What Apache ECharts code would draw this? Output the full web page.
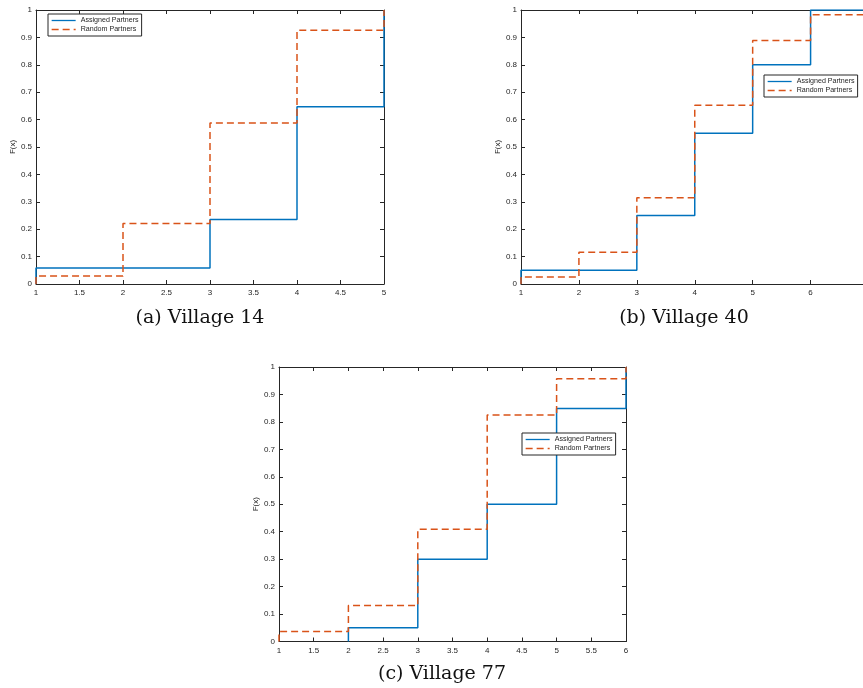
<!DOCTYPE html>
<html>
<head>
<meta charset="utf-8">
<script src="https://cdn.jsdelivr.net/npm/echarts@6/dist/echarts.min.js"></script>
<style>
html,body{margin:0;padding:0;background:#fff;}
#chart{width:863px;height:688px;}
</style>
</head>
<body>
<div id="chart"></div>
<script>
// ---- Data ----
const seriesNames = ['Assigned Partners', 'Random Partners'];
const captions = ['(a) Village 14', '(b) Village 40', '(c) Village 77'];

// Village 14
const v14AssignedX = [1, 1, 3, 4, 5];
const v14AssignedF = [0, 0.058, 0.235, 0.647, 1];
const v14RandomX = [1, 1, 2, 3, 4, 5];
const v14RandomF = [0, 0.029, 0.221, 0.588, 0.926, 1];

// Village 40
const v40AssignedX = [1, 1, 3, 4, 5, 6, 7];
const v40AssignedF = [0, 0.05, 0.25, 0.55, 0.80, 1, 1];
const v40RandomX = [1, 1, 2, 3, 4, 5, 6, 7];
const v40RandomF = [0, 0.026, 0.116, 0.315, 0.652, 0.889, 0.983, 0.983];

// Village 77
const v77AssignedX = [2, 2, 3, 4, 5, 6];
const v77AssignedF = [0, 0.05, 0.30, 0.50, 0.849, 1];
const v77RandomX = [1, 1, 2, 3, 4, 5, 6];
const v77RandomF = [0, 0.036, 0.131, 0.409, 0.825, 0.957, 1];

const xRanges = [[1, 5, 0.5], [1, 7, 1], [1, 6, 0.5]];

const zip = (xs, ys) => xs.map((x, i) => [x, ys[i]]);
const panels = [
  [zip(v14AssignedX, v14AssignedF), zip(v14RandomX, v14RandomF)],
  [zip(v40AssignedX, v40AssignedF), zip(v40RandomX, v40RandomF)],
  [zip(v77AssignedX, v77AssignedF), zip(v77RandomX, v77RandomF)]
];

// ---- Layout ----
const grids = [
  { left: 36, top: 10, width: 348, height: 274 },
  { left: 521, top: 10, width: 347.5, height: 274 },
  { left: 279, top: 367, width: 347, height: 274.5 }
];
const legendPos = [
  { left: 48, top: 14 },
  { left: 764, top: 75 },
  { left: 522, top: 433 }
];
const captionPos = [[200, 318], [684, 318], [442, 674]];

const axisColor = '#262626';
const blue = '#0072BD';
const orange = '#D95319';
const labelFont = { color: axisColor, fontSize: 8, fontFamily: 'Liberation Sans, Arial, sans-serif' };

const xAxis = [], yAxis = [], series = [], legend = [], graphic = [];
grids.forEach((g, i) => {
  const [mn, mx, iv] = xRanges[i];
  const common = {
    type: 'value', gridIndex: i, min: mn, max: mx, interval: iv,
    splitLine: { show: false },
    axisLine: { show: true, onZero: false, lineStyle: { color: axisColor, width: 1 } },
    axisTick: { show: true, inside: true, length: 4, lineStyle: { color: axisColor } }
  };
  xAxis.push(Object.assign({}, common, {
    position: 'bottom',
    axisLabel: Object.assign({ margin: 5, showMinLabel: true, showMaxLabel: true }, labelFont)
  }));
  xAxis.push(Object.assign({}, common, { position: 'top', axisLabel: { show: false } }));
  const ycommon = {
    type: 'value', gridIndex: i, min: 0, max: 1, interval: 0.1,
    splitLine: { show: false },
    axisLine: { show: true, onZero: false, lineStyle: { color: axisColor, width: 1 } },
    axisTick: { show: true, inside: true, length: 4, lineStyle: { color: axisColor } }
  };
  yAxis.push(Object.assign({}, ycommon, {
    position: 'left',
    name: 'F(x)', nameLocation: 'middle', nameGap: 18, nameRotate: 90,
    nameTextStyle: Object.assign({}, labelFont, { fontSize: 8 }),
    axisLabel: Object.assign({ margin: 4 }, labelFont)
  }));
  yAxis.push(Object.assign({}, ycommon, { position: 'right', axisLabel: { show: false } }));

  series.push({
    name: seriesNames[0], type: 'line', step: 'end', symbol: 'none',
    xAxisIndex: 2 * i, yAxisIndex: 2 * i,
    data: panels[i][0],
    lineStyle: { color: blue, width: 1.5 }, itemStyle: { color: blue }
  });
  series.push({
    name: seriesNames[1], type: 'line', step: 'end', symbol: 'none',
    xAxisIndex: 2 * i, yAxisIndex: 2 * i,
    data: panels[i][1],
    lineStyle: { color: orange, width: 1.5, type: [7, 4] }, itemStyle: { color: orange }
  });

  legend.push({
    data: seriesNames, orient: 'vertical',
    left: legendPos[i].left, top: legendPos[i].top,
    borderColor: axisColor, borderWidth: 1, borderRadius: 0,
    backgroundColor: '#fff',
    padding: [3, 3, 3, 3], itemGap: 2, itemWidth: 24, itemHeight: 8,
    itemStyle: { opacity: 0 },
    lineStyle: { width: 1.3 },
    textStyle: Object.assign({}, labelFont, { fontSize: 7.1 })
  });

  graphic.push({
    type: 'text', x: captionPos[i][0], y: captionPos[i][1],
    style: {
      text: captions[i], align: 'center', verticalAlign: 'middle',
      fill: '#111', font: '19px "DejaVu Serif", serif'
    }
  });
});

const chart = echarts.init(document.getElementById('chart'), null, { renderer: 'canvas' });
chart.setOption({
  animation: false,
  backgroundColor: '#fff',
  grid: grids.map(g => Object.assign({ containLabel: false, outerBoundsMode: 'none' }, g)),
  xAxis, yAxis, series, legend, graphic
});
</script>
</body>
</html>
